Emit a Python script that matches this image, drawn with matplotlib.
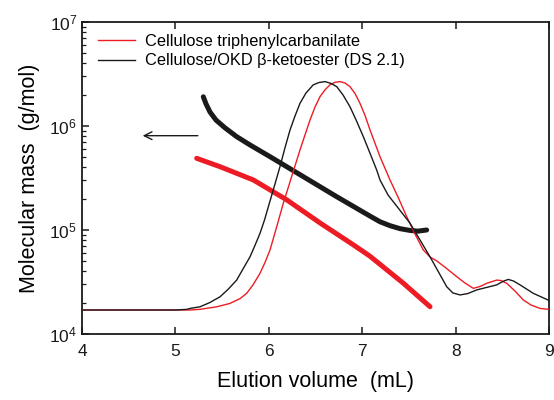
import numpy as np
import matplotlib
matplotlib.use("Agg")
import matplotlib.pyplot as plt

plt.rcParams['font.family'] = ['Liberation Sans', 'DejaVu Sans']
plt.rcParams['mathtext.default'] = 'regular'

RED = '#ED1C24'
BLACK = '#1A1A1A'

# Elution (detector) signal, normalized to peak = 1
black_ev = [4.0, 4.996, 5.124, 5.156, 5.263, 5.370, 5.478, 5.563, 5.656, 5.724, 5.799, 5.852,
            5.906, 5.954, 5.995, 6.048, 6.12, 6.173, 6.227, 6.281, 6.334, 6.398, 6.476, 6.537,
            6.602, 6.666, 6.727, 6.794, 6.869, 6.939, 7.012, 7.084, 7.155, 7.191, 7.276,
            7.512, 7.726, 7.905, 7.97, 8.047, 8.13, 8.226, 8.44, 8.51, 8.564, 8.62, 8.69,
            8.832, 9.0]
black_sig = [0.0, 0.0, 0.003, 0.007, 0.014, 0.033, 0.058, 0.090, 0.131, 0.180, 0.233, 0.283,
             0.336, 0.394, 0.452, 0.526, 0.628, 0.710, 0.788, 0.850, 0.905, 0.950, 0.986, 0.996,
             1.0, 0.992, 0.978, 0.942, 0.890, 0.828, 0.759, 0.686, 0.613, 0.569, 0.504,
             0.380, 0.233, 0.102, 0.075, 0.066, 0.072, 0.088, 0.110, 0.126, 0.134, 0.127, 0.110,
             0.073, 0.042]

red_ev = [4.0, 5.156, 5.263, 5.442, 5.585, 5.692, 5.763, 5.831, 5.906, 5.959, 6.013, 6.085,
          6.155, 6.227, 6.334, 6.441, 6.495, 6.548, 6.602, 6.655, 6.709, 6.762, 6.816, 6.869,
          6.923, 6.976, 7.030, 7.084, 7.191, 7.298, 7.383, 7.476, 7.565, 7.654, 7.726, 7.798,
          7.897, 8.012, 8.101, 8.190, 8.262, 8.333, 8.440, 8.486, 8.547, 8.636, 8.725, 8.807,
          8.904, 9.0]
red_sig = [0.0, 0.0, 0.003, 0.014, 0.029, 0.050, 0.073, 0.110, 0.161, 0.208, 0.263, 0.365,
           0.467, 0.561, 0.701, 0.832, 0.889, 0.934, 0.964, 0.986, 0.997, 1.0, 0.994, 0.978,
           0.948, 0.905, 0.852, 0.788, 0.671, 0.569, 0.495, 0.409, 0.333, 0.263, 0.232, 0.215,
           0.184, 0.146, 0.118, 0.095, 0.103, 0.117, 0.131, 0.129, 0.117, 0.083, 0.044, 0.022,
           0.007, 0.003]

# Molecular mass vs elution volume
black_mm_ev = [5.299, 5.328, 5.371, 5.435, 5.531, 5.656, 5.799, 6.013, 6.369, 6.727, 7.084,
               7.191, 7.298, 7.405, 7.512, 7.597, 7.69]
black_mm = [1.91e6, 1.63e6, 1.36e6, 1.14e6, 9.6e5, 7.9e5, 6.57e5, 5.07e5, 3.26e5, 2.09e5, 1.36e5,
            1.20e5, 1.10e5, 1.03e5, 9.9e4, 9.75e4, 1.0e5]

red_mm_ev = [5.228, 5.478, 5.834, 6.192, 6.548, 6.905, 7.083, 7.44, 7.726]
red_mm = [4.89e5, 4.06e5, 3.03e5, 1.95e5, 1.17e5, 7.2e4, 5.6e4, 3.08e4, 1.83e4]

labels = ['Cellulose triphenylcarbanilate', 'Cellulose/OKD β-ketoester (DS 2.1)']

fig = plt.figure(figsize=(5.54, 4.00), dpi=100)
ax = fig.add_axes([0.148, 0.165, 0.843, 0.78])
ax.set_yscale('log')
ax.set_xlim(4, 9)
ax.set_ylim(1e4, 1e7)

ax.plot(red_mm_ev, red_mm, color=RED, lw=3.6, solid_capstyle='round', solid_joinstyle='round')
ax.plot(black_mm_ev, black_mm, color=BLACK, lw=3.6, solid_capstyle='round', solid_joinstyle='round')

ax.annotate('', xy=(4.62, 8.07e5), xytext=(5.27, 8.07e5),
            arrowprops=dict(arrowstyle='->', color=BLACK, lw=1.0, mutation_scale=14))

ax2 = ax.twinx()
ax2.set_ylim(-0.105, 1.261)
ax2.axis('off')
l1, = ax2.plot(red_ev, red_sig, color=RED, lw=1.0, solid_joinstyle='round')
l2, = ax2.plot(black_ev, black_sig, color=BLACK, lw=1.0, solid_joinstyle='round')

leg = ax2.legend([l1, l2], labels, loc='upper left', bbox_to_anchor=(0.034, 0.962),
                 frameon=False, fontsize=11.8, handlelength=2.26, handletextpad=0.6,
                 labelspacing=0.28, borderpad=0, borderaxespad=0)

ax.set_xticks([4, 5, 6, 7, 8, 9])
ax.tick_params(which='both', direction='in', top=True, right=False, labelsize=12.5,
               colors=BLACK)
ax.tick_params(which='major', length=5, width=1.1)
ax.tick_params(which='minor', length=3, width=0.9)
ax.tick_params(axis='x', pad=7)
for s in ax.spines.values():
    s.set_linewidth(1.3)
    s.set_color(BLACK)

ax.set_xlabel('Elution volume  (mL)', fontsize=15.5, labelpad=9)
ax.set_ylabel('Molecular mass  (g/mol)', fontsize=15.5, labelpad=7)

fig.savefig('out.png', dpi=100)
